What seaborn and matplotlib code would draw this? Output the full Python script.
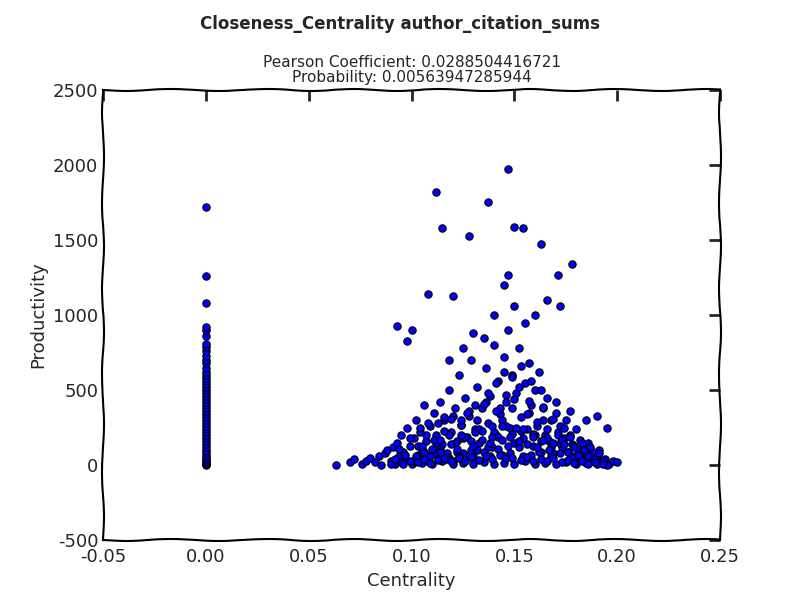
import matplotlib
matplotlib.use("Agg")
import matplotlib.pyplot as plt
import seaborn as sns
import pandas as pd

zero_y = [0,5,10,20,30,40,55,70,85,100,120,140,160,180,200,220,240,260,280,300,320,340,360,380,400,420,440,460,480,500,520,540,560,580,600,620,650,680,700,730,760,790,810,860,900,920,1080,1260,1720]

cl_x = [0.063,0.070,0.072,0.076,0.078,0.080,0.082,0.084,0.085,0.087,0.088,0.090,0.091,0.092,0.093,0.094,0.095,0.096,0.097,0.098,
        0.099,0.100,0.101,0.102,0.103,0.104,0.105,0.106,0.107,0.108,0.109,0.110,0.111,0.112,0.113,0.114,0.115,0.116,0.117,0.118,
        0.119,0.120,0.121,0.122,0.123,0.124,0.125,0.126,0.127,0.128,0.129,0.130,0.131,0.132,0.133,0.134,0.135,0.136,0.137,0.138,
        0.139,0.140,0.141,0.142,0.143,0.144,0.145,0.146,0.147,0.148,0.149,0.150,0.151,0.152,0.153,0.154,0.155,0.156,0.157,0.158,
        0.159,0.160,0.161,0.162,0.163,0.164,0.165,0.166,0.167,0.168,0.169,0.170,0.171,0.172,0.173,0.174,0.175,0.176,0.177,0.178,
        0.179,0.180,0.181,0.182,0.183,0.184,0.185,0.186,0.187,0.188,0.189,0.190,0.191,0.192,0.194,0.196,0.198,0.200,
        0.090,0.095,0.100,0.105,0.110,0.115,0.120,0.125,0.130,0.135,0.140,0.145,0.150,0.155,0.160,0.165,0.170,0.175,0.180,0.185,0.190,0.195,
        0.102,0.108,0.112,0.118,0.122,0.128,0.132,0.138,0.142,0.148,0.152,0.158,0.162,0.168,0.172,0.178,0.182,0.188,
        0.112,0.118,0.125,0.133,0.140,0.146,0.153,0.160,0.166,0.172,
        0.120,0.128,0.136,0.143,0.150,0.157,0.164,
        0.112,0.147,0.137,0.115,0.128,0.150,0.154,0.163,0.178,0.171,0.147,0.108,0.120,0.145,0.150,0.166,0.172,0.093,0.100,0.098,0.160,0.130,0.140,0.155,0.135,0.125,0.118,0.190,0.185,0.195,
        0.092,0.094,0.097,0.099,0.101,0.103,0.104,0.106,0.107,0.109,0.111,0.113,0.114,0.116,0.117,0.119,0.121,0.123,0.124,0.126,
        0.127,0.129,0.131,0.132,0.134,0.135,0.137,0.139,0.141,0.142,0.144,0.146,0.147,0.149,0.151,0.152,0.154,0.156,0.157,0.159,
        0.161,0.163,0.164,0.166,0.168,0.169,0.171,0.173,0.174,0.176,0.177,0.179,0.181,0.183,0.184,0.186,0.187,0.189,0.191,0.193,
        0.096,0.099,0.103,0.106,0.109,0.113,0.116,0.119,0.123,0.126,0.129,0.133,0.136,0.139,0.143,0.146,0.149,0.153,0.156,0.159,
        0.163,0.166,0.169,0.173,0.176,0.179,0.183,0.186,0.189,0.193,
        0.105,0.110,0.114,0.119,0.124,0.129,0.134,0.139,0.144,0.149,0.154,0.159,0.164,0.169,0.174,0.179,0.184,
        0.108,0.116,0.124,0.131,0.137,0.141,0.145,0.149,0.153,0.158,0.163,0.170,0.177,
        0.114,0.122,0.130,0.138,0.144,0.148,0.152,0.156,0.161,0.167]
cl_y = [0,20,40,10,30,50,20,60,0,80,100,30,120,10,150,60,200,90,40,250,
        130,20,180,300,70,220,110,400,160,30,260,90,350,200,50,420,140,300,80,500,
        220,30,380,160,600,270,80,450,190,330,700,60,240,520,150,380,90,650,280,460,
        120,800,200,560,340,70,720,420,900,250,600,150,480,780,320,60,550,240,680,400,
        130,500,260,620,90,380,200,450,160,300,80,350,220,260,120,180,300,90,200,140,
        60,240,100,170,50,120,80,150,40,90,30,60,100,20,40,10,30,20,
        10,20,5,15,10,25,5,15,10,20,5,15,10,25,5,15,10,20,5,15,10,0,
        60,40,80,50,90,70,100,60,110,80,120,70,90,60,80,50,40,30,
        150,200,180,240,220,260,230,200,180,150,
        330,360,420,380,440,350,300,
        1820,1975,1755,1580,1530,1585,1580,1475,1340,1265,1270,1140,1130,1200,1060,1100,1060,930,900,830,1000,880,1000,950,850,780,700,330,300,250,
        40,110,70,180,30,130,250,90,200,60,170,280,110,230,40,310,150,60,270,190,
        350,100,220,300,170,410,120,260,360,190,300,470,130,380,250,520,180,340,430,210,
        290,160,390,240,120,310,200,170,250,90,190,130,70,150,100,60,120,40,80,30,
        10,30,20,40,15,35,50,25,45,30,55,35,60,40,65,45,50,35,55,30,
        40,25,45,20,35,15,30,10,20,5,
        130,110,170,140,200,160,230,190,260,210,240,190,170,150,140,120,100,
        280,320,300,400,480,550,620,590,660,560,500,420,360,
        90,110,130,150,170,190,160,140,120,100]

xs = [0.0]*len(zero_y) + cl_x
ys = zero_y + cl_y
df = pd.DataFrame({"Centrality": xs, "Productivity": ys})

sns.set_style("white")
plt.xkcd(scale=1, length=100, randomness=2)
plt.rcParams['font.family'] = ['DejaVu Sans']
plt.rcParams['path.effects'] = []

fig = plt.figure(figsize=(8, 6), dpi=100)
ax = fig.add_axes([0.129, 0.1, 0.771, 0.75])
sns.scatterplot(data=df, x="Centrality", y="Productivity", ax=ax, s=28,
                color="blue", edgecolor="black", linewidth=0.8)
ax.set_xlim(-0.05, 0.25)
ax.set_ylim(-500, 2500)
ax.set_xticks([-0.05, 0, 0.05, 0.10, 0.15, 0.20, 0.25])
ax.set_xticklabels(["-0.05", "0.00", "0.05", "0.10", "0.15", "0.20", "0.25"])
ax.set_yticks([-500, 0, 500, 1000, 1500, 2000, 2500])
ax.tick_params(direction="in", length=8, width=2, labelsize=13, top=True, right=True)
ax.tick_params(axis="x", pad=6)
ax.set_xlabel("Centrality", fontsize=13)
ax.set_ylabel("Productivity", fontsize=13)
ax.set_title("Pearson Coefficient: 0.0288504416721\nProbability: 0.00563947285944", fontsize=11, linespacing=1.0)
fig.suptitle("Closeness_Centrality author_citation_sums", fontsize=12, fontweight="bold", y=0.975)
fig.savefig("out.png", dpi=100)
